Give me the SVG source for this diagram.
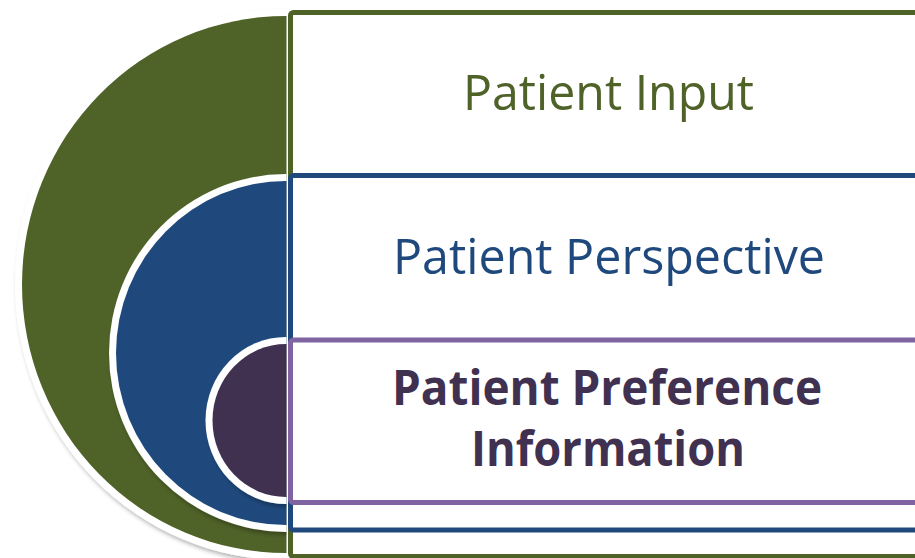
<svg xmlns="http://www.w3.org/2000/svg" width="915" height="558" viewBox="0 0 915 558">
<defs>
<style>
.lbl{font-family:"Open Sans","Noto Sans","Liberation Sans",sans-serif;font-size:49px;text-anchor:middle}
.box{fill:#FFFFFF;stroke-width:5}
.ring{fill:#FFFFFF;filter:url(#sh)}
</style>
<clipPath id="half"><rect x="0" y="0" width="286.5" height="558"/></clipPath>
<filter id="sh" x="-10%" y="-10%" width="130%" height="130%">
<feDropShadow dx="2" dy="3" stdDeviation="2" flood-color="#000000" flood-opacity="0.3"/>
</filter>
</defs>
<rect width="915" height="558" fill="#FFFFFF"/>
<g id="node-input">
<g clip-path="url(#half)">
<ellipse class="ring" cx="286" cy="284.5" rx="271" ry="275.5"/>
<ellipse cx="286" cy="284.5" rx="264" ry="268.5" fill="#4F6228"/>
</g>
<rect class="box" x="290.5" y="12.5" width="640" height="544" rx="3" stroke="#4F6228"/>
<text class="lbl" x="608.5" y="110" fill="#4F6228" textLength="291" lengthAdjust="spacingAndGlyphs">Patient Input</text>
</g>
<g id="node-perspective">
<g clip-path="url(#half)">
<ellipse class="ring" cx="286" cy="353" rx="177" ry="179"/>
<ellipse cx="286" cy="353" rx="170" ry="172" fill="#1F497D"/>
</g>
<rect class="box" x="290.5" y="175.5" width="640" height="354.5" rx="3" stroke="#1F497D"/>
<text class="lbl" x="609" y="274" fill="#1F497D" textLength="432" lengthAdjust="spacingAndGlyphs">Patient Perspective</text>
</g>
<g id="node-preference">
<g clip-path="url(#half)">
<ellipse class="ring" cx="286" cy="420.5" rx="80.5" ry="83.5"/>
<ellipse cx="286" cy="420.5" rx="73.5" ry="76.5" fill="#403151"/>
</g>
<rect class="box" x="290.5" y="340" width="640" height="162.5" rx="3" stroke="#8064A2"/>
<text class="lbl" x="607" y="405" fill="#403151" font-weight="bold" textLength="430" lengthAdjust="spacingAndGlyphs">Patient Preference</text>
<text class="lbl" x="608" y="466" fill="#403151" font-weight="bold" textLength="274" lengthAdjust="spacingAndGlyphs">Information</text>
</g>
<g id="connectors"/>
</svg>
